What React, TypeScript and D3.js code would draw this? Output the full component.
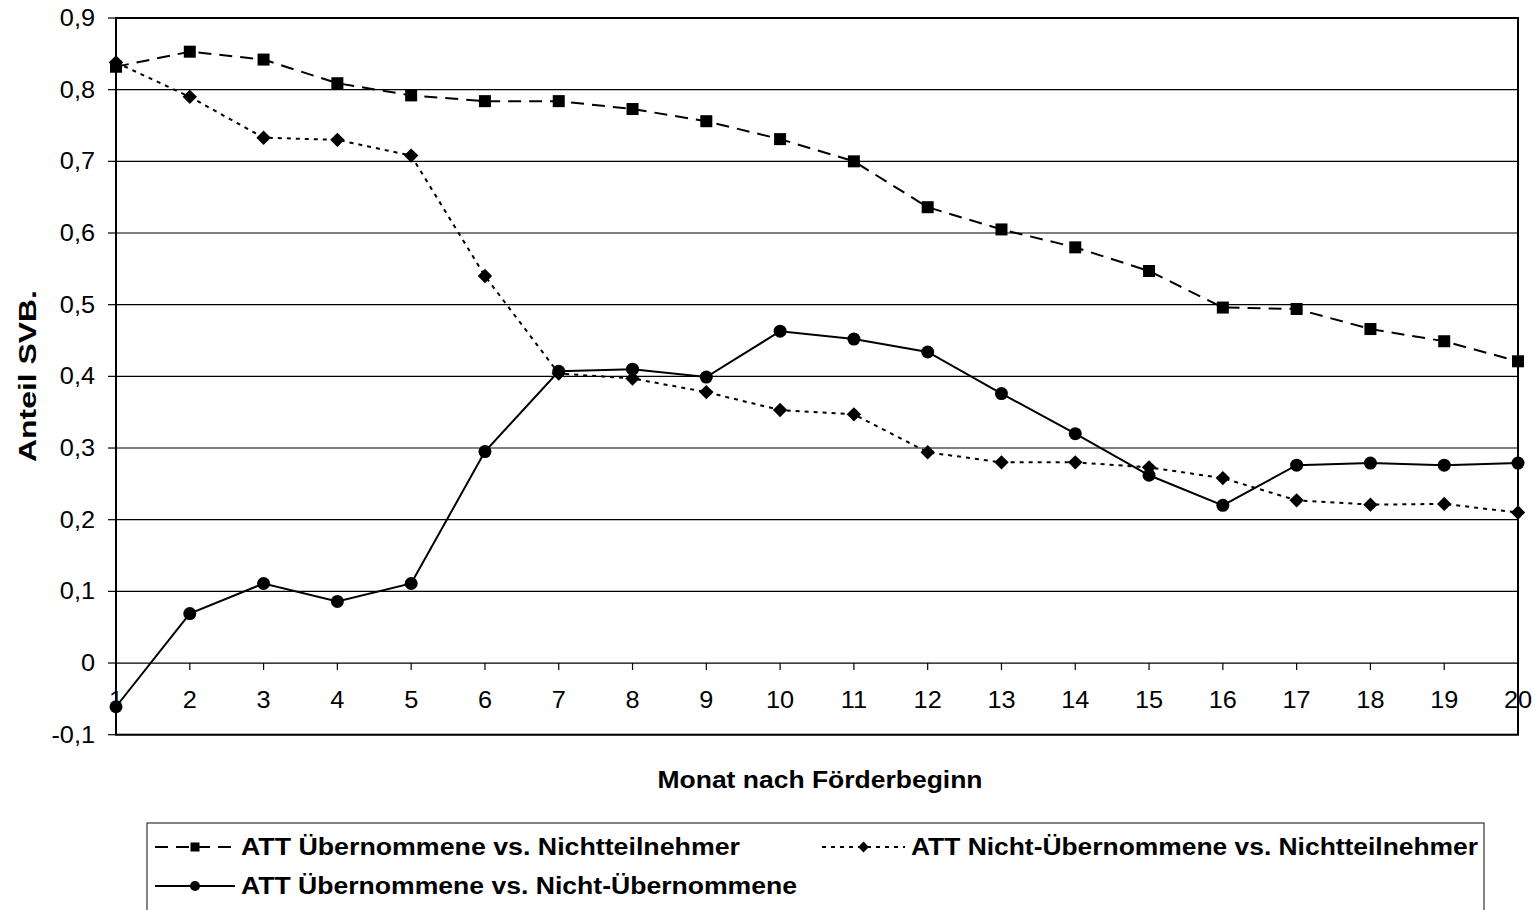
import React from "react";
import * as d3 from "d3";

const months = [1, 2, 3, 4, 5, 6, 7, 8, 9, 10, 11, 12, 13, 14, 15, 16, 17, 18, 19, 20];
const attUebVsNicht = [0.832, 0.853, 0.842, 0.809, 0.792, 0.784, 0.784, 0.773, 0.756, 0.731, 0.700, 0.636, 0.605, 0.580, 0.547, 0.496, 0.494, 0.466, 0.449, 0.421];
const attNichtUebVsNicht = [0.838, 0.790, 0.733, 0.730, 0.708, 0.540, 0.404, 0.397, 0.378, 0.353, 0.347, 0.294, 0.280, 0.280, 0.273, 0.258, 0.227, 0.221, 0.222, 0.210];
const attUebVsNichtUeb = [-0.061, 0.069, 0.111, 0.086, 0.111, 0.295, 0.407, 0.410, 0.399, 0.463, 0.452, 0.434, 0.376, 0.320, 0.262, 0.220, 0.276, 0.279, 0.276, 0.279];
const yTicks = [-0.1, 0, 0.1, 0.2, 0.3, 0.4, 0.5, 0.6, 0.7, 0.8, 0.9];
const seriesNames = [
  "ATT Übernommene vs. Nichtteilnehmer",
  "ATT Nicht-Übernommene vs. Nichtteilnehmer",
  "ATT Übernommene vs. Nicht-Übernommene",
];
const xTitle = "Monat nach Förderbeginn";
const yTitle = "Anteil SVB.";

const FONT = "'Liberation Sans', Arial, sans-serif";

function Marker({ kind, x, y, s }: { kind: string; x: number; y: number; s: number }) {
  if (kind === "square") return <rect x={x - s / 2} y={y - s / 2} width={s} height={s} fill="#000" />;
  if (kind === "diamond") {
    const r = s * 0.6;
    return <path d={`M${x},${y - r}L${x + r},${y}L${x},${y + r}L${x - r},${y}Z`} fill="#000" />;
  }
  return <circle cx={x} cy={y} r={s / 2} fill="#000" />;
}

export default function App() {
  const W = 1535, H = 910;
  const left = 116, right = 1518, top = 18, bottom = 734.7;
  const x = d3.scalePoint<number>().domain(months).range([left, right]);
  const y = d3.scaleLinear().domain([-0.1, 0.9]).range([bottom, top]);
  const line = d3.line<number>().x((_, i) => x(months[i])!).y((d) => y(d));

  const series = [
    { data: attUebVsNicht, dash: "13,8", marker: "square", size: 12 },
    { data: attNichtUebVsNicht, dash: "4,5", marker: "diamond", size: 12 },
    { data: attUebVsNichtUeb, dash: "none", marker: "circle", size: 13 },
  ];
  const fmt = (v: number) =>
    Math.abs(v) < 1e-9 ? "0" : d3.format(".1f")(v).replace(".", ",").replace("\u2212", "-");

  const legendItems = [
    { s: 0, x0: 155, x1: 235, tx: 241, ty: 847, len: 499 },
    { s: 1, x0: 822, x1: 905, tx: 911, ty: 847, len: 567 },
    { s: 2, x0: 155, x1: 235, tx: 241, ty: 886, len: 556 },
  ];

  return (
    <svg width={W} height={H} style={{ position: "absolute", left: 0, top: 0, background: "#fff" }} fontFamily={FONT}>
      <rect x={0} y={0} width={W} height={H} fill="#fff" />
      {/* grid */}
      {yTicks.map((t) => (
        <line key={"g" + t} x1={left} x2={right} y1={y(t)} y2={y(t)} stroke="#000" strokeWidth={1.2} />
      ))}
      {/* y ticks and labels */}
      {yTicks.map((t) => (
        <g key={"yt" + t}>
          <line x1={left - 8} x2={left} y1={y(t)} y2={y(t)} stroke="#000" strokeWidth={1.2} />
          <text x={95} y={y(t) + 8} textAnchor="end" fontSize={23} transform={`translate(95,0) scale(1.1,1) translate(-95,0)`}>
            {fmt(t)}
          </text>
        </g>
      ))}
      {/* x ticks on zero line */}
      {months.map((m) => (
        <line key={"xt" + m} x1={x(m)} x2={x(m)} y1={y(0)} y2={y(0) + 7} stroke="#000" strokeWidth={1.2} />
      ))}
      {/* plot frame */}
      <rect x={left} y={top} width={right - left} height={bottom - top} fill="none" stroke="#000" strokeWidth={2} />
      {/* series */}
      {series.map((s, i) => (
        <path key={"s" + i} d={line(s.data)!} fill="none" stroke="#000" strokeWidth={2} strokeDasharray={s.dash} />
      ))}
      {series.map((s, i) => (
        <g key={"m" + i}>
          {s.data.map((v, j) => (
            <Marker key={j} kind={s.marker} x={x(months[j])!} y={y(v)} s={s.size} />
          ))}
        </g>
      ))}
      {/* x labels */}
      {months.map((m) => (
        <text key={"xl" + m} x={x(m)} y={708} textAnchor="middle" fontSize={23}
          transform={`translate(${x(m)},0) scale(1.1,1) translate(${-x(m)!},0)`}>
          {m}
        </text>
      ))}
      {/* axis titles */}
      <text x={820} y={788} textAnchor="middle" fontSize={23} fontWeight="bold" textLength={325} lengthAdjust="spacingAndGlyphs">
        {xTitle}
      </text>
      <text transform={`translate(36,376) rotate(-90)`} textAnchor="middle" fontSize={23} fontWeight="bold" textLength={172} lengthAdjust="spacingAndGlyphs">
        {yTitle}
      </text>
      {/* legend */}
      <rect x={147} y={823} width={1337} height={120} fill="#fff" stroke="#333" strokeWidth={1.2} />
      {legendItems.map((it) => {
        const s = series[it.s];
        const mx = (it.x0 + it.x1) / 2;
        return (
          <g key={"l" + it.s}>
            <line x1={it.x0} x2={it.x1} y1={it.ty} y2={it.ty} stroke="#000" strokeWidth={2} strokeDasharray={s.dash} />
            <Marker kind={s.marker} x={mx} y={it.ty} s={s.size - 3} />
            <text x={it.tx} y={it.ty + 8} fontSize={23} fontWeight="bold" textLength={it.len} lengthAdjust="spacingAndGlyphs">
              {seriesNames[it.s]}
            </text>
          </g>
        );
      })}
    </svg>
  );
}
